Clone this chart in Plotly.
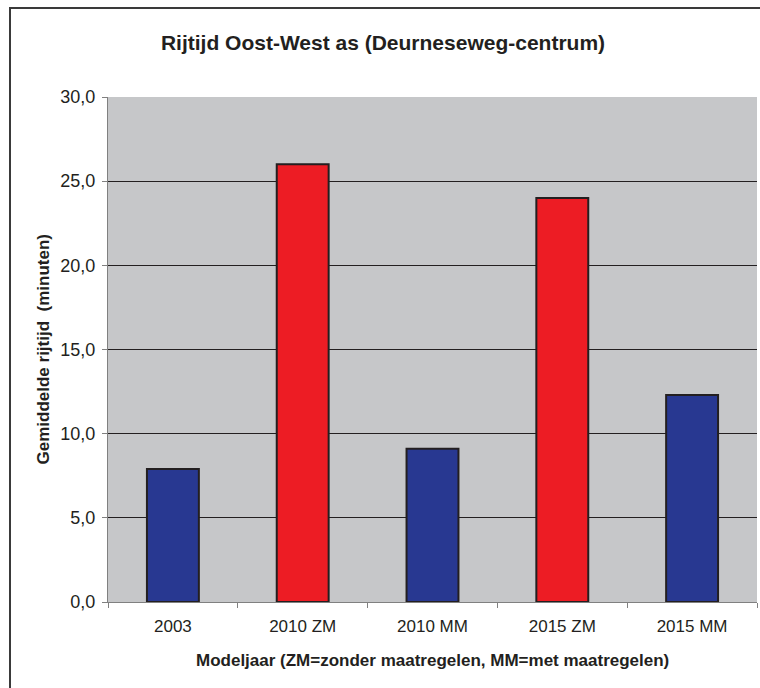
import plotly.graph_objects as go

categories = ["2003", "2010 ZM", "2010 MM", "2015 ZM", "2015 MM"]
values = [7.9, 26.0, 9.1, 24.0, 12.3]
bar_colors = ["#283891", "#ED1C24", "#283891", "#ED1C24", "#283891"]
y_ticks = [0, 5, 10, 15, 20, 25, 30]

fig = go.Figure()
fig.add_trace(go.Bar(
    x=categories, y=values,
    marker=dict(color=bar_colors, line=dict(color="#231F20", width=2)),
    width=0.4,
))

font_family = "Liberation Sans, Arial, sans-serif"
W, H = 760, 688
L, R, T, B = 108, 3, 97, 86
pw, ph = W - L - R, H - T - B

fig.update_layout(
    width=W, height=H,
    margin=dict(l=L, r=R, t=T, b=B),
    paper_bgcolor="white",
    plot_bgcolor="#C6C7C9",
    separators=",.",
    showlegend=False,
    font=dict(family=font_family, color="#231F20", size=17),
    title=dict(
        text="<b>Rijtijd Oost-West as (Deurneseweg-centrum)</b>",
        x=(383 / W), xref="container", xanchor="center",
        y=1 - 43 / H, yanchor="middle",
        font=dict(size=21, family=font_family, color="#231F20"),
    ),
    xaxis=dict(
        showline=True, linecolor="#808080", linewidth=1,
        ticks="outside", tickson="boundaries", ticklen=5, tickcolor="#808080",
        showgrid=False,
        tickfont=dict(size=17),
        ticklabelstandoff=9,
    ),
    yaxis=dict(
        range=[0, 30], tickvals=y_ticks, tickformat=".1f",
        showline=True, linecolor="#808080", linewidth=1,
        ticks="outside", ticklen=5, tickcolor="#808080",
        showgrid=True, gridcolor="#231F20", gridwidth=1,
        zeroline=False,
        tickfont=dict(size=18),
        ticklabelstandoff=3,
    ),
    annotations=[
        dict(text="<b>Gemiddelde rijtijd  (minuten)</b>", textangle=-90,
             xref="paper", yref="paper", x=(43 - L) / pw, y=0.5,
             xanchor="center", yanchor="middle", showarrow=False,
             font=dict(size=17)),
        dict(text="<b>Modeljaar (ZM=zonder maatregelen, MM=met maatregelen)</b>",
             xref="paper", yref="paper", x=0.5, y=-(660 - (T + ph)) / ph,
             xanchor="center", yanchor="middle", showarrow=False,
             font=dict(size=17)),
    ],
    shapes=[dict(
        type="rect", xref="paper", yref="paper",
        x0=(10 - L) / pw, x1=1.2, y0=-0.3, y1=1 + (T - 8) / ph,
        line=dict(color="#3A3A3A", width=2), fillcolor="rgba(0,0,0,0)",
        layer="below",
    )],
)

fig.write_html(
    "out.html",
    config={"displayModeBar": False},
    post_script="document.body.style.margin='0';document.body.style.overflow='hidden';",
)
